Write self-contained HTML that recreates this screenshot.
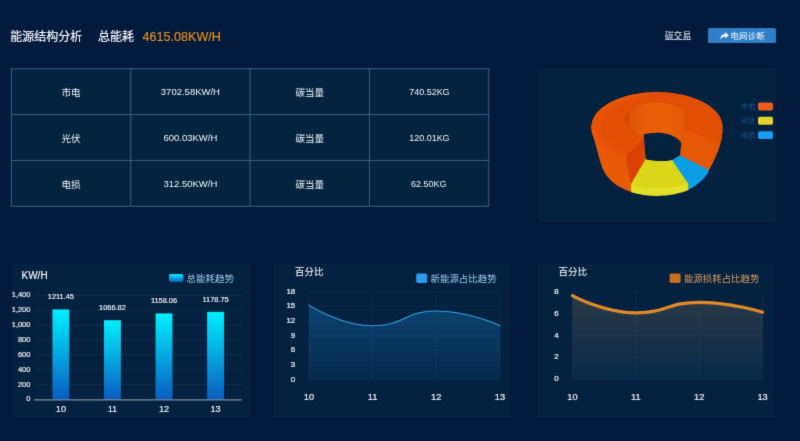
<!DOCTYPE html>
<html lang="zh-CN">
<head>
<meta charset="utf-8">
<title>能源结构分析</title>
<style>
html,body{margin:0;padding:0;}
html{background:#021a3b;}
body{width:800px;height:441px;overflow:hidden;background:#021a3b;position:relative;
 font-family:"Liberation Sans","Noto Sans CJK SC",sans-serif;color:#e6edf5;}
#root{position:absolute;left:0;top:0;width:800px;height:441px;background:#021a3b;filter:url(#soft);}
.abs{position:absolute;white-space:nowrap;}
.hd{top:24.5px;height:24px;line-height:24px;font-size:12px;}
.title{left:10.3px;color:#fff;-webkit-text-stroke:0.15px #fff;}
.sub{left:98px;color:#fff;-webkit-text-stroke:0.15px #fff;}
.total{left:142.5px;color:#ea9020;font-size:12.6px;-webkit-text-stroke:0.15px #ea9020;}
.link{left:664.8px;top:28.6px;height:11.2px;line-height:15px;font-size:8.8px;color:#e6edf5;text-decoration:none;background:linear-gradient(#c8d2e0,#c8d2e0) 0 100%/100% 0.7px no-repeat;overflow:visible;}
.btn{left:708px;top:27.6px;width:68.4px;height:15.1px;background:#2f7fc6;border-radius:1.6px;}
.btn span{position:absolute;left:22.5px;top:1px;height:15.1px;line-height:15.1px;font-size:8.3px;letter-spacing:0.3px;color:#fff;}
.btn svg{position:absolute;left:11.5px;top:4px;}
table{position:absolute;left:11.4px;top:68.75px;border-collapse:collapse;border-spacing:0;table-layout:fixed;width:477.4px;background:#03233f;}
td{border:0;height:45.85px;padding:0.6px 0 0 0;box-sizing:border-box;text-align:center;font-size:9.5px;color:#f4f7fa;}
.kg{display:inline-block;transform:scaleX(0.945);}
.panel{position:absolute;background:#04223f;}
svg.charts{position:absolute;left:0;top:0;}
svg text{font-family:"Liberation Sans","Noto Sans CJK SC",sans-serif;}
</style>
</head>
<body>
<svg width="0" height="0" style="position:absolute" aria-hidden="true"><defs><filter id="soft" x="0" y="0" width="100%" height="100%" color-interpolation-filters="sRGB"><feConvolveMatrix order="3" kernelMatrix="0.018 0.135 0.018 0.135 1 0.135 0.018 0.135 0.018" divisor="1.612" edgeMode="duplicate" preserveAlpha="false"/></filter></defs></svg>
<div id="root">
<div class="abs hd title">能源结构分析</div>
<div class="abs hd sub">总能耗</div>
<div class="abs hd total">4615.08KW/H</div>
<a class="abs link">碳交易</a>
<div class="abs btn"><svg width="9" height="8" viewBox="0 0 9 8"><path d="M5.2 0.2 L8.8 3.2 L5.2 6.2 L5.2 4.4 C3.2 4.3 1.6 5 0.5 7.6 C0.3 4.3 2.2 2.1 5.2 2 Z" fill="#fff"/></svg><span>电网诊断</span></div>
<table>
<tr><td>市电</td><td>3702.58KW/H</td><td>碳当量</td><td><span class="kg">740.52KG</span></td></tr>
<tr><td>光伏</td><td>600.03KW/H</td><td>碳当量</td><td><span class="kg">120.01KG</span></td></tr>
<tr><td>电损</td><td>312.50KW/H</td><td>碳当量</td><td><span class="kg">62.50KG</span></td></tr>
</table>
<div class="panel" style="left:538.3px;top:68.2px;width:238.2px;height:153.4px;"></div>
<div class="panel" style="left:11.5px;top:263.8px;width:238px;height:153.2px;"></div>
<div class="panel" style="left:273px;top:263.8px;width:237.2px;height:153.2px;"></div>
<div class="panel" style="left:536.6px;top:263.8px;width:237.8px;height:153.2px;"></div>
<svg class="charts" width="800" height="441" viewBox="0 0 800 441">
<defs>
<linearGradient id="barg" x1="0" y1="0" x2="0" y2="1"><stop offset="0" stop-color="#00f0ff"/><stop offset="1" stop-color="#0a5cc0"/></linearGradient>
<linearGradient id="area1" x1="0" y1="0" x2="0" y2="1"><stop offset="0" stop-color="#0b4471"/><stop offset="1" stop-color="#052849"/></linearGradient>
<linearGradient id="area2" x1="0" y1="0" x2="0" y2="1"><stop offset="0" stop-color="#2b3a47"/><stop offset="1" stop-color="#072747"/></linearGradient>
<linearGradient id="inwall" x1="0" y1="0" x2="1" y2="0"><stop offset="0" stop-color="#c64004"/><stop offset="0.04" stop-color="#d24804"/><stop offset="0.1" stop-color="#e05606"/><stop offset="0.3" stop-color="#e65e07"/><stop offset="0.6" stop-color="#e86107"/><stop offset="0.92" stop-color="#e45a06"/><stop offset="1" stop-color="#d64a04"/></linearGradient>
<radialGradient id="rim" gradientUnits="userSpaceOnUse" cx="657" cy="127" r="65.5" gradientTransform="translate(0 127) scale(1 0.5344) translate(0 -127)"><stop offset="0.8" stop-color="#ee5808" stop-opacity="0"/><stop offset="0.93" stop-color="#ee5808" stop-opacity="0.5"/><stop offset="1" stop-color="#ee5808" stop-opacity="0.8"/></radialGradient>
<linearGradient id="rimfade" gradientUnits="userSpaceOnUse" x1="591" y1="0" x2="660" y2="0"><stop offset="0" stop-color="#fff"/><stop offset="0.45" stop-color="#fff"/><stop offset="1" stop-color="#000"/></linearGradient>
<mask id="rimmask" maskUnits="userSpaceOnUse" x="585" y="85" width="145" height="115"><rect x="585" y="85" width="145" height="115" fill="url(#rimfade)"/></mask>
</defs>
<line x1="10.9" y1="68.75" x2="489.3" y2="68.75" stroke="#45698f" stroke-width="0.85"/>
<line x1="10.9" y1="114.60" x2="489.3" y2="114.60" stroke="#45698f" stroke-width="0.85"/>
<line x1="10.9" y1="160.45" x2="489.3" y2="160.45" stroke="#45698f" stroke-width="0.85"/>
<line x1="10.9" y1="206.30" x2="489.3" y2="206.30" stroke="#45698f" stroke-width="0.85"/>
<line x1="11.40" y1="68.75" x2="11.40" y2="206.3" stroke="#45698f" stroke-width="0.85"/>
<line x1="130.75" y1="68.75" x2="130.75" y2="206.3" stroke="#45698f" stroke-width="0.85"/>
<line x1="250.10" y1="68.75" x2="250.10" y2="206.3" stroke="#45698f" stroke-width="0.85"/>
<line x1="369.45" y1="68.75" x2="369.45" y2="206.3" stroke="#45698f" stroke-width="0.85"/>
<line x1="488.80" y1="68.75" x2="488.80" y2="206.3" stroke="#45698f" stroke-width="0.85"/>
<line x1="35.0" y1="384.55" x2="241.6" y2="384.55" stroke="#17365a" stroke-width="0.6"/>
<line x1="35.0" y1="369.70" x2="241.6" y2="369.70" stroke="#17365a" stroke-width="0.6"/>
<line x1="35.0" y1="354.85" x2="241.6" y2="354.85" stroke="#17365a" stroke-width="0.6"/>
<line x1="35.0" y1="340.00" x2="241.6" y2="340.00" stroke="#17365a" stroke-width="0.6"/>
<line x1="35.0" y1="325.15" x2="241.6" y2="325.15" stroke="#17365a" stroke-width="0.6"/>
<line x1="35.0" y1="310.30" x2="241.6" y2="310.30" stroke="#17365a" stroke-width="0.6"/>
<line x1="35.0" y1="295.45" x2="241.6" y2="295.45" stroke="#17365a" stroke-width="0.6"/>
<text x="30.3" y="398.90" text-anchor="end" font-size="7.4" fill="#f8fafc" stroke="#f8fafc" stroke-width="0.15" dominant-baseline="central">0</text>
<text x="30.3" y="384.05" text-anchor="end" font-size="7.4" fill="#f8fafc" stroke="#f8fafc" stroke-width="0.15" dominant-baseline="central">200</text>
<text x="30.3" y="369.20" text-anchor="end" font-size="7.4" fill="#f8fafc" stroke="#f8fafc" stroke-width="0.15" dominant-baseline="central">400</text>
<text x="30.3" y="354.35" text-anchor="end" font-size="7.4" fill="#f8fafc" stroke="#f8fafc" stroke-width="0.15" dominant-baseline="central">600</text>
<text x="30.3" y="339.50" text-anchor="end" font-size="7.4" fill="#f8fafc" stroke="#f8fafc" stroke-width="0.15" dominant-baseline="central">800</text>
<text x="30.3" y="324.65" text-anchor="end" font-size="7.4" fill="#f8fafc" stroke="#f8fafc" stroke-width="0.15" dominant-baseline="central">1,000</text>
<text x="30.3" y="309.80" text-anchor="end" font-size="7.4" fill="#f8fafc" stroke="#f8fafc" stroke-width="0.15" dominant-baseline="central">1,200</text>
<text x="30.3" y="294.95" text-anchor="end" font-size="7.4" fill="#f8fafc" stroke="#f8fafc" stroke-width="0.15" dominant-baseline="central">1,400</text>
<rect x="52.45" y="309.45" width="16.9" height="89.95" fill="url(#barg)"/>
<text x="60.90" y="296.75" text-anchor="middle" font-size="7.4" fill="#f8fafc" stroke="#f8fafc" stroke-width="0.15" dominant-baseline="central">1211.45</text>
<text x="60.90" y="409.2" text-anchor="middle" font-size="9.2" fill="#f8fafc" stroke="#f8fafc" stroke-width="0.12" dominant-baseline="central">10</text>
<rect x="104.00" y="320.19" width="16.9" height="79.21" fill="url(#barg)"/>
<text x="112.45" y="307.49" text-anchor="middle" font-size="7.4" fill="#f8fafc" stroke="#f8fafc" stroke-width="0.15" dominant-baseline="central">1066.82</text>
<text x="112.45" y="409.2" text-anchor="middle" font-size="9.2" fill="#f8fafc" stroke="#f8fafc" stroke-width="0.12" dominant-baseline="central">11</text>
<rect x="155.55" y="313.41" width="16.9" height="85.99" fill="url(#barg)"/>
<text x="164.00" y="300.71" text-anchor="middle" font-size="7.4" fill="#f8fafc" stroke="#f8fafc" stroke-width="0.15" dominant-baseline="central">1158.06</text>
<text x="164.00" y="409.2" text-anchor="middle" font-size="9.2" fill="#f8fafc" stroke="#f8fafc" stroke-width="0.12" dominant-baseline="central">12</text>
<rect x="207.15" y="311.88" width="16.9" height="87.52" fill="url(#barg)"/>
<text x="215.60" y="299.18" text-anchor="middle" font-size="7.4" fill="#f8fafc" stroke="#f8fafc" stroke-width="0.15" dominant-baseline="central">1178.75</text>
<text x="215.60" y="409.2" text-anchor="middle" font-size="9.2" fill="#f8fafc" stroke="#f8fafc" stroke-width="0.12" dominant-baseline="central">13</text>
<line x1="34.2" y1="399.90" x2="241.6" y2="399.90" stroke="#96a9bc" stroke-width="1"/>
<text x="21.5" y="275" font-size="10" fill="#f8fafc" stroke="#f8fafc" stroke-width="0.15" dominant-baseline="central">KW/H</text>
<rect x="169" y="274" width="14.4" height="8" rx="1.8" fill="url(#barg)"/>
<text x="186.4" y="278.2" font-size="9.5" fill="#9cc8f0" dominant-baseline="central">总能耗趋势</text>
<path d="M309.00 305.10 C309.00 305.10 340.44 325.78 372.63 325.78 C404.07 325.78 404.44 310.97 436.27 310.97 C468.08 310.97 499.90 325.63 499.90 325.63 L499.90 379.90 L309.00 379.90 Z" fill="url(#area1)"/>
<line x1="309.0" y1="291.90" x2="499.9" y2="291.90" stroke="#3c6896" stroke-opacity="0.18" stroke-width="0.7"/>
<line x1="309.0" y1="306.57" x2="499.9" y2="306.57" stroke="#3c6896" stroke-opacity="0.18" stroke-width="0.7"/>
<line x1="309.0" y1="321.23" x2="499.9" y2="321.23" stroke="#3c6896" stroke-opacity="0.18" stroke-width="0.7"/>
<line x1="309.0" y1="335.90" x2="499.9" y2="335.90" stroke="#3c6896" stroke-opacity="0.18" stroke-width="0.7"/>
<line x1="309.0" y1="350.57" x2="499.9" y2="350.57" stroke="#3c6896" stroke-opacity="0.18" stroke-width="0.7"/>
<line x1="309.0" y1="365.23" x2="499.9" y2="365.23" stroke="#3c6896" stroke-opacity="0.18" stroke-width="0.7"/>
<line x1="309.0" y1="379.90" x2="499.9" y2="379.90" stroke="#3c6896" stroke-opacity="0.18" stroke-width="0.7"/>
<line x1="309.00" y1="291.90" x2="309.00" y2="379.90" stroke="#3c6896" stroke-opacity="0.22" stroke-width="0.7"/>
<line x1="372.63" y1="291.90" x2="372.63" y2="379.90" stroke="#3c6896" stroke-opacity="0.22" stroke-width="0.7"/>
<line x1="436.27" y1="291.90" x2="436.27" y2="379.90" stroke="#3c6896" stroke-opacity="0.22" stroke-width="0.7"/>
<line x1="499.90" y1="291.90" x2="499.90" y2="379.90" stroke="#3c6896" stroke-opacity="0.22" stroke-width="0.7"/>
<path d="M309.00 305.10 C309.00 305.10 340.44 325.78 372.63 325.78 C404.07 325.78 404.44 310.97 436.27 310.97 C468.08 310.97 499.90 325.63 499.90 325.63" fill="none" stroke="#319fdc" stroke-width="1.1" stroke-linecap="round"/>
<text x="295.2" y="379.20" text-anchor="end" font-size="7.9" fill="#f0f4f8" stroke="#f0f4f8" stroke-width="0.22" dominant-baseline="central">0</text>
<text x="295.2" y="364.53" text-anchor="end" font-size="7.9" fill="#f0f4f8" stroke="#f0f4f8" stroke-width="0.22" dominant-baseline="central">3</text>
<text x="295.2" y="349.87" text-anchor="end" font-size="7.9" fill="#f0f4f8" stroke="#f0f4f8" stroke-width="0.22" dominant-baseline="central">6</text>
<text x="295.2" y="335.20" text-anchor="end" font-size="7.9" fill="#f0f4f8" stroke="#f0f4f8" stroke-width="0.22" dominant-baseline="central">9</text>
<text x="295.2" y="320.53" text-anchor="end" font-size="7.9" fill="#f0f4f8" stroke="#f0f4f8" stroke-width="0.22" dominant-baseline="central">12</text>
<text x="295.2" y="305.87" text-anchor="end" font-size="7.9" fill="#f0f4f8" stroke="#f0f4f8" stroke-width="0.22" dominant-baseline="central">15</text>
<text x="295.2" y="291.20" text-anchor="end" font-size="7.9" fill="#f0f4f8" stroke="#f0f4f8" stroke-width="0.22" dominant-baseline="central">18</text>
<text x="309.00" y="397.00" text-anchor="middle" font-size="9.3" fill="#f0f4f8" stroke="#f0f4f8" stroke-width="0.2" dominant-baseline="central">10</text>
<text x="372.63" y="397.00" text-anchor="middle" font-size="9.3" fill="#f0f4f8" stroke="#f0f4f8" stroke-width="0.2" dominant-baseline="central">11</text>
<text x="436.27" y="397.00" text-anchor="middle" font-size="9.3" fill="#f0f4f8" stroke="#f0f4f8" stroke-width="0.2" dominant-baseline="central">12</text>
<text x="499.90" y="397.00" text-anchor="middle" font-size="9.3" fill="#f0f4f8" stroke="#f0f4f8" stroke-width="0.2" dominant-baseline="central">13</text>
<text x="295.0" y="272.3" letter-spacing="0.25" font-size="9.35" fill="#f4f7fa" stroke="#f4f7fa" stroke-width="0.1" dominant-baseline="central">百分比</text>
<rect x="416.2" y="273.4" width="11" height="9.6" rx="1.8" fill="#2e9bea"/>
<text x="430.5" y="278.3" font-size="9.45" fill="#9cc8f0" dominant-baseline="central">新能源占比趋势</text>
<path d="M572.40 295.61 C572.40 295.61 603.75 312.78 635.80 312.78 C667.15 312.78 667.48 302.28 699.20 302.28 C730.88 302.28 762.60 312.23 762.60 312.23 L762.60 379.50 L572.40 379.50 Z" fill="url(#area2)"/>
<line x1="572.4" y1="292.00" x2="762.6" y2="292.00" stroke="#3c6896" stroke-opacity="0.18" stroke-width="0.7"/>
<line x1="572.4" y1="313.88" x2="762.6" y2="313.88" stroke="#3c6896" stroke-opacity="0.18" stroke-width="0.7"/>
<line x1="572.4" y1="335.75" x2="762.6" y2="335.75" stroke="#3c6896" stroke-opacity="0.18" stroke-width="0.7"/>
<line x1="572.4" y1="357.62" x2="762.6" y2="357.62" stroke="#3c6896" stroke-opacity="0.18" stroke-width="0.7"/>
<line x1="572.4" y1="379.50" x2="762.6" y2="379.50" stroke="#3c6896" stroke-opacity="0.18" stroke-width="0.7"/>
<line x1="572.40" y1="292.00" x2="572.40" y2="379.50" stroke="#3c6896" stroke-opacity="0.22" stroke-width="0.7"/>
<line x1="635.80" y1="292.00" x2="635.80" y2="379.50" stroke="#3c6896" stroke-opacity="0.22" stroke-width="0.7"/>
<line x1="699.20" y1="292.00" x2="699.20" y2="379.50" stroke="#3c6896" stroke-opacity="0.22" stroke-width="0.7"/>
<line x1="762.60" y1="292.00" x2="762.60" y2="379.50" stroke="#3c6896" stroke-opacity="0.22" stroke-width="0.7"/>
<path d="M572.40 295.61 C572.40 295.61 603.75 312.78 635.80 312.78 C667.15 312.78 667.48 302.28 699.20 302.28 C730.88 302.28 762.60 312.23 762.60 312.23" fill="none" stroke="#e08a2a" stroke-width="3.2" stroke-linecap="round"/>
<text x="558.6" y="378.80" text-anchor="end" font-size="7.9" fill="#f0f4f8" stroke="#f0f4f8" stroke-width="0.22" dominant-baseline="central">0</text>
<text x="558.6" y="356.93" text-anchor="end" font-size="7.9" fill="#f0f4f8" stroke="#f0f4f8" stroke-width="0.22" dominant-baseline="central">2</text>
<text x="558.6" y="335.05" text-anchor="end" font-size="7.9" fill="#f0f4f8" stroke="#f0f4f8" stroke-width="0.22" dominant-baseline="central">4</text>
<text x="558.6" y="313.18" text-anchor="end" font-size="7.9" fill="#f0f4f8" stroke="#f0f4f8" stroke-width="0.22" dominant-baseline="central">6</text>
<text x="558.6" y="291.30" text-anchor="end" font-size="7.9" fill="#f0f4f8" stroke="#f0f4f8" stroke-width="0.22" dominant-baseline="central">8</text>
<text x="572.40" y="396.90" text-anchor="middle" font-size="9.3" fill="#f0f4f8" stroke="#f0f4f8" stroke-width="0.2" dominant-baseline="central">10</text>
<text x="635.80" y="396.90" text-anchor="middle" font-size="9.3" fill="#f0f4f8" stroke="#f0f4f8" stroke-width="0.2" dominant-baseline="central">11</text>
<text x="699.20" y="396.90" text-anchor="middle" font-size="9.3" fill="#f0f4f8" stroke="#f0f4f8" stroke-width="0.2" dominant-baseline="central">12</text>
<text x="762.60" y="396.90" text-anchor="middle" font-size="9.3" fill="#f0f4f8" stroke="#f0f4f8" stroke-width="0.2" dominant-baseline="central">13</text>
<text x="558.5" y="272.3" letter-spacing="0.25" font-size="9.35" fill="#f4f7fa" stroke="#f4f7fa" stroke-width="0.1" dominant-baseline="central">百分比</text>
<rect x="669.6" y="273.4" width="11" height="9.6" rx="1.8" fill="#c8701e"/>
<text x="683.9" y="278.3" font-size="9.45" fill="#d99a5a" dominant-baseline="central">能源损耗占比趋势</text>
<path d="M591.5 127 A65.5 35 0 0 1 722.5 127 C722.42 128.50 722.42 133.00 722.00 136.00 C721.58 139.00 720.90 142.00 720.00 145.00 C719.10 148.00 717.83 151.00 716.60 154.00 C715.37 157.00 713.98 160.13 712.60 163.00 C711.22 165.87 709.02 169.83 708.30 171.20 L688 190 L631.2 192.1 C630.27 191.72 628.10 191.02 625.60 189.80 C623.10 188.58 619.00 186.72 616.20 184.80 C613.40 182.88 610.92 180.70 608.80 178.30 C606.68 175.90 604.95 173.28 603.50 170.40 C602.05 167.52 601.17 164.40 600.10 161.00 C599.03 157.60 598.12 153.67 597.10 150.00 C596.08 146.33 594.85 141.92 594.00 139.00 C593.15 136.08 592.42 134.50 592.00 132.50 C591.58 130.50 591.58 127.92 591.50 127.00 Z" fill="#e95a07"/>
<path d="M591.5 127 A65.5 35 0 0 1 722.5 127 C722.5 133 721.8 138 720.4 142.6 L683.3 129.8 L681.5 154 L644 160.8 L644 138.1 L625.8 156.3 C612 153 604 149.8 600.3 147.4 C595 142 591.5 134 591.5 127 Z" fill="#e24e06"/>
<path d="M591.5 127 A65.5 35 0 0 1 722.5 127 L683.3 129.8 L644 138.1 L625.8 156.3 C612 153 604 149.8 600.3 147.4 C595 142 591.5 134 591.5 127 Z" fill="url(#rim)" mask="url(#rimmask)"/>
<ellipse cx="656.5" cy="118.8" rx="31.5" ry="16.3" fill="url(#inwall)"/>
<path d="M625.2 119 C628 128 636 134 644 138.1 L644 160 L682 155 L683.3 129.8 C686 126 688 122 688 119 Z" fill="url(#inwall)"/>
<path d="M625.8 156.3 L644 138.1 L644.5 160.8 L630.9 185 Z" fill="#da4204"/>
<path d="M683.3 129.8 L720.4 142.6 C718 153 713 163 708 170.8 L680.5 155.5 Z" fill="#e35705"/>
<path d="M643.7 134.7 C650 132.3 662 132 669 134.5 C676 137 680.5 140.5 681.3 143.7 L680 155.5 L672.4 160.3 C664 162 652 161.5 645.6 159.6 Z" fill="#04213e"/>
<path d="M645.6 159.6 C652 161.5 664 162 672.4 160.3 L688.5 183.8 L688.3 190 C672 197.2 648 197.6 631.3 192.2 L630.9 184.4 Z" fill="#e3e127"/>
<path d="M645.6 159.6 C652 161.5 664 162 672.4 160.3 L688.5 183.8 C672 189.8 648 190 630.9 184.4 Z" fill="#dcd61b"/>
<path d="M672.4 160.3 L680 155.5 L708.6 170 L708.2 172.6 C703.4 180.2 696.4 185.7 688.3 190 L688.5 183.8 Z" fill="#0ea3e9"/>
<path d="M672.4 160.3 L680 155.5 L708.6 170 C703 176.6 697 180.7 688.5 183.8 Z" fill="#0a9de3"/>
<rect x="758" y="102.50" width="15" height="7.9" rx="1.8" fill="#f05a1e"/>
<text x="755.3" y="106.50" text-anchor="end" font-size="7.3" fill="#1c4e88" dominant-baseline="central">市电</text>
<rect x="758" y="116.85" width="15" height="7.9" rx="1.8" fill="#e6d22e"/>
<text x="755.3" y="120.85" text-anchor="end" font-size="7.3" fill="#1c4e88" dominant-baseline="central">光伏</text>
<rect x="758" y="131.20" width="15" height="7.9" rx="1.8" fill="#1a9cf0"/>
<text x="755.3" y="135.20" text-anchor="end" font-size="7.3" fill="#1c4e88" dominant-baseline="central">电损</text>
</svg>
</div>
</body>
</html>
